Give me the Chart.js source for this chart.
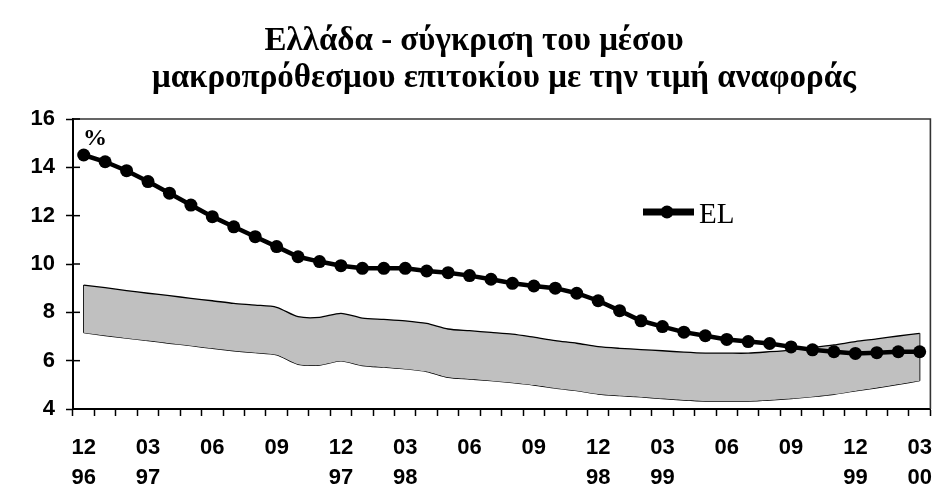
<!DOCTYPE html>
<html>
<head>
<meta charset="utf-8">
<script src="https://cdn.jsdelivr.net/npm/chart.js@4/dist/chart.umd.min.js"></script>
<style>
  html, body { margin: 0; padding: 0; background: #fff; }
  #wrap { width: 949px; height: 488px; position: relative; }
</style>
</head>
<body>
<div id="wrap"><canvas id="c" width="949" height="488"></canvas></div>
<script>
// Monthly observations, December 1996 to March 2000
const months = [
  '12/96','01/97','02/97','03/97','04/97','05/97','06/97','07/97','08/97','09/97','10/97','11/97',
  '12/97','01/98','02/98','03/98','04/98','05/98','06/98','07/98','08/98','09/98','10/98','11/98',
  '12/98','01/99','02/99','03/99','04/99','05/99','06/99','07/99','08/99','09/99','10/99','11/99',
  '12/99','01/00','02/00','03/00'
];

// Greek average long-term interest rate (%)
const greece = [
  14.51, 14.23, 13.86, 13.41, 12.93, 12.44, 11.96, 11.54, 11.13, 10.72, 10.30, 10.10,
  9.93, 9.82, 9.82, 9.82, 9.71, 9.64, 9.52, 9.37, 9.20, 9.09, 9.00, 8.79,
  8.48, 8.07, 7.65, 7.41, 7.18, 7.03, 6.88, 6.79, 6.71, 6.57, 6.45, 6.37,
  6.30, 6.33, 6.37, 6.37
];

// Reference value range: upper and lower bounds (%)
const refUpper = [
  9.13, 9.02, 8.90, 8.79, 8.69, 8.58, 8.48, 8.37, 8.30, 8.21, 7.82, 7.79,
  7.96, 7.76, 7.71, 7.65, 7.54, 7.31, 7.24, 7.17, 7.10, 6.97, 6.83, 6.72,
  6.58, 6.51, 6.46, 6.41, 6.35, 6.31, 6.31, 6.31, 6.37, 6.44, 6.54, 6.65,
  6.79, 6.90, 7.02, 7.13
];
const refLower = [
  7.16, 7.04, 6.93, 6.83, 6.72, 6.62, 6.51, 6.41, 6.33, 6.24, 5.85, 5.82,
  5.99, 5.80, 5.73, 5.66, 5.55, 5.31, 5.24, 5.17, 5.09, 4.99, 4.86, 4.76,
  4.62, 4.55, 4.50, 4.43, 4.37, 4.33, 4.33, 4.33, 4.37, 4.43, 4.51, 4.61,
  4.75, 4.88, 5.02, 5.17
];

// Quarterly axis labels: month on the first line, year on the second
const tickLabels = [
  ['12','96'], ['03','97'], ['06',''], ['09',''], ['12','97'], ['03','98'], ['06',''],
  ['09',''], ['12','98'], ['03','99'], ['06',''], ['09',''], ['12','99'], ['03','00']
];

const titleLines = [
  'Ελλάδα - σύγκριση του μέσου',
  'μακροπρόθεσμου επιτοκίου με την τιμή αναφοράς'
];

const SERIF = '"Liberation Serif", "Times New Roman", serif';
const SANS = '"Liberation Sans", Arial, sans-serif';

// Title, frame, inner tick marks, band end lines, unit label and legend
const decorations = {
  id: 'decorations',
  beforeDraw(chart) {
    const ctx = chart.ctx;
    ctx.save();
    ctx.fillStyle = '#000';
    ctx.textBaseline = 'alphabetic';
    ctx.textAlign = 'center';
    ctx.font = 'bold 33px ' + SERIF;
    ctx.fillText(titleLines[0], 474, 50);
    ctx.fillText(titleLines[1], 504, 87);
    ctx.restore();
  },
  afterDatasetDraw(chart, args) {
    if (args.index !== 2) return;
    const ctx = chart.ctx;
    const x = chart.scales.x, y = chart.scales.y;
    ctx.save();
    ctx.strokeStyle = '#000';
    ctx.lineWidth = 1.3;
    [0, months.length - 1].forEach(i => {
      const px = x.getPixelForValue(i);
      ctx.beginPath();
      ctx.moveTo(px, y.getPixelForValue(refUpper[i]));
      ctx.lineTo(px, y.getPixelForValue(refLower[i]));
      ctx.stroke();
    });
    ctx.restore();
  },
  afterDraw(chart) {
    const ctx = chart.ctx;
    const a = chart.chartArea;
    const y = chart.scales.y;
    ctx.save();
    // top and right frame
    ctx.strokeStyle = '#333';
    ctx.lineWidth = 1.6;
    ctx.beginPath();
    ctx.moveTo(a.left, a.top);
    ctx.lineTo(a.right, a.top);
    ctx.lineTo(a.right, a.bottom);
    ctx.stroke();
    // y ticks also reach into the plot
    ctx.strokeStyle = '#000';
    ctx.lineWidth = 1.5;
    y.ticks.forEach(t => {
      const py = y.getPixelForValue(t.value);
      ctx.beginPath();
      ctx.moveTo(a.left, py);
      ctx.lineTo(a.left + 7, py);
      ctx.stroke();
    });
    // unit
    ctx.fillStyle = '#000';
    ctx.font = 'bold 24px ' + SERIF;
    ctx.textAlign = 'left';
    ctx.fillText('%', a.left + 10, a.top + 26);
    // legend
    const ds = chart.data.datasets[0];
    const ly = 212;
    ctx.strokeStyle = '#000';
    ctx.lineWidth = 7;
    ctx.beginPath();
    ctx.moveTo(643, ly);
    ctx.lineTo(694, ly);
    ctx.stroke();
    ctx.beginPath();
    ctx.arc(667, ly, 6.5, 0, Math.PI * 2);
    ctx.fill();
    ctx.font = '29px ' + SERIF;
    ctx.fillText(ds.label, 699, 223);
    ctx.restore();
  }
};

new Chart(document.getElementById('c'), {
  type: 'line',
  data: {
    labels: months,
    datasets: [
      {
        label: 'EL',
        data: greece,
        borderColor: '#000',
        backgroundColor: '#000',
        borderWidth: 4.5,
        pointRadius: 6.5,
        pointBackgroundColor: '#000',
        pointBorderWidth: 0,
        fill: false,
        tension: 0
      },
      {
        label: 'upper',
        data: refUpper,
        borderColor: '#000',
        borderWidth: 1.3,
        backgroundColor: '#c0c0c0',
        pointRadius: 0,
        fill: '+1',
        tension: 0.25
      },
      {
        label: 'lower',
        data: refLower,
        borderColor: '#000',
        borderWidth: 1.3,
        pointRadius: 0,
        fill: false,
        tension: 0.25
      }
    ]
  },
  options: {
    responsive: false,
    animation: false,
    events: [],
    layout: { padding: { top: 119, right: 3, bottom: 0, left: 0 } },
    plugins: {
      legend: { display: false },
      title: { display: false },
      tooltip: { enabled: false }
    },
    scales: {
      x: {
        offset: true,
        grid: {
          offset: true,
          drawOnChartArea: false,
          drawTicks: true,
          tickLength: 7,
          tickWidth: 1.5,
          tickColor: '#000'
        },
        border: { display: true, color: '#000', width: 2 },
        ticks: {
          autoSkip: false,
          maxRotation: 0,
          minRotation: 0,
          padding: 17,
          color: '#000',
          font: { family: SANS, size: 22, weight: 'bold', lineHeight: 1.35 },
          callback: (v, i) => (i % 3 === 0 ? tickLabels[i / 3] : '')
        },
        afterFit: s => { s.height = 79; }
      },
      y: {
        min: 4,
        max: 16,
        grid: {
          drawOnChartArea: false,
          drawTicks: true,
          tickLength: 7,
          tickWidth: 1.5,
          tickColor: '#000'
        },
        border: { display: true, color: '#000', width: 2 },
        ticks: {
          stepSize: 2,
          padding: 11,
          color: '#000',
          font: { family: SANS, size: 22, weight: 'bold' }
        },
        afterFit: s => { s.width = 73; }
      }
    }
  },
  plugins: [decorations]
});
</script>
</body>
</html>
